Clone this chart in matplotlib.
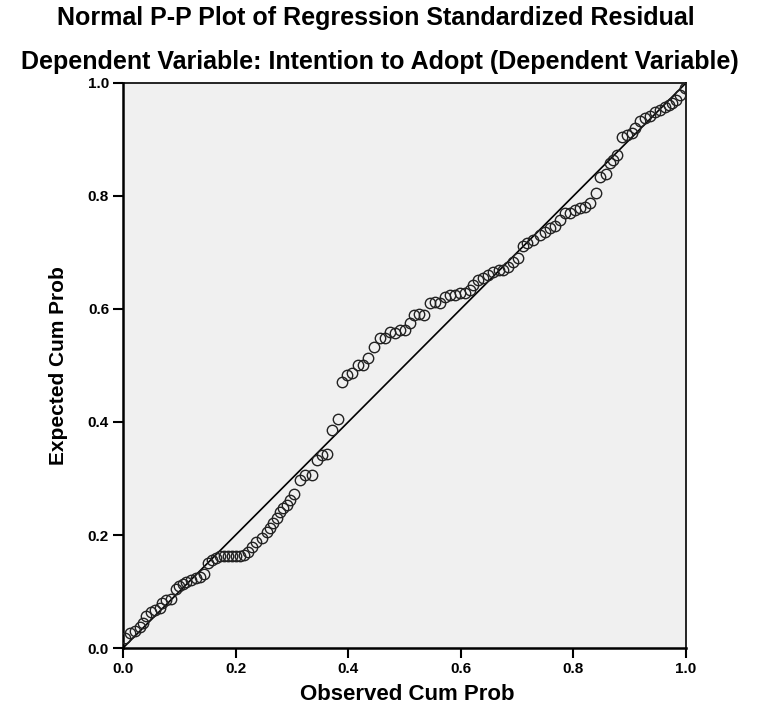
import matplotlib
matplotlib.use('Agg')
import matplotlib.pyplot as plt

plt.rcParams['font.family'] = ['Liberation Sans', 'DejaVu Sans']

# observed cumulative probability (x) and expected cumulative probability (y)
obs_cum = [0.004, 0.012, 0.021, 0.030, 0.036, 0.041, 0.050, 0.056, 0.065, 0.070,
           0.076, 0.085, 0.094, 0.100, 0.106, 0.112, 0.121, 0.130, 0.136, 0.144,
           0.151, 0.158, 0.165, 0.172, 0.180, 0.187, 0.194, 0.201, 0.208, 0.215,
           0.222, 0.229, 0.237, 0.246, 0.255, 0.261, 0.267, 0.273, 0.279, 0.285,
           0.291, 0.297, 0.303, 0.314, 0.323, 0.335, 0.344, 0.353, 0.362, 0.371,
           0.381, 0.389, 0.398, 0.407, 0.418, 0.427, 0.436, 0.445, 0.456, 0.465,
           0.474, 0.483, 0.492, 0.501, 0.510, 0.516, 0.525, 0.534, 0.545, 0.554,
           0.563, 0.572, 0.581, 0.590, 0.599, 0.607, 0.616, 0.622, 0.631, 0.640,
           0.649, 0.658, 0.667, 0.675, 0.684, 0.693, 0.702, 0.710, 0.718, 0.729,
           0.741, 0.750, 0.758, 0.767, 0.776, 0.785, 0.794, 0.803, 0.812, 0.821,
           0.829, 0.840, 0.847, 0.858, 0.865, 0.871, 0.877, 0.886, 0.895, 0.904,
           0.909, 0.918, 0.927, 0.936, 0.945, 0.954, 0.963, 0.969, 0.975, 0.982,
           0.989, 0.998]
exp_cum = [0.018, 0.027, 0.031, 0.037, 0.045, 0.057, 0.064, 0.067, 0.070, 0.080,
           0.085, 0.087, 0.104, 0.110, 0.114, 0.117, 0.120, 0.124, 0.126, 0.131,
           0.150, 0.155, 0.160, 0.163, 0.163, 0.163, 0.163, 0.163, 0.163, 0.165,
           0.170, 0.179, 0.188, 0.194, 0.206, 0.212, 0.221, 0.230, 0.241, 0.248,
           0.253, 0.262, 0.272, 0.297, 0.306, 0.306, 0.333, 0.342, 0.343, 0.386,
           0.405, 0.471, 0.484, 0.487, 0.501, 0.500, 0.513, 0.533, 0.548, 0.548,
           0.560, 0.557, 0.563, 0.563, 0.575, 0.589, 0.592, 0.589, 0.610, 0.613,
           0.610, 0.622, 0.625, 0.625, 0.628, 0.628, 0.634, 0.642, 0.651, 0.654,
           0.660, 0.666, 0.669, 0.669, 0.675, 0.684, 0.690, 0.712, 0.716, 0.722,
           0.731, 0.737, 0.743, 0.746, 0.758, 0.769, 0.769, 0.775, 0.778, 0.781,
           0.787, 0.805, 0.834, 0.839, 0.859, 0.864, 0.873, 0.905, 0.908, 0.911,
           0.920, 0.932, 0.938, 0.941, 0.949, 0.952, 0.958, 0.961, 0.964, 0.970,
           0.979, 0.991]
ticks = [0.0, 0.2, 0.4, 0.6, 0.8, 1.0]
tick_labels = ['0.0', '0.2', '0.4', '0.6', '0.8', '1.0']

fig = plt.figure(figsize=(7.57, 7.09), dpi=100)
ax = fig.add_axes([0.1625, 0.086, 0.7437, 0.797])
ax.set_facecolor('#f0f0f0')

ax.plot([0, 1], [0, 1], color='black', lw=1.2, zorder=2)
ax.plot(obs_cum, exp_cum, 'o', mfc='none', mec='#222222', mew=1.0, ms=7.5, zorder=3)

ax.set_xlim(0, 1)
ax.set_ylim(0, 1)
ax.set_xticks(ticks)
ax.set_xticklabels(tick_labels)
ax.set_yticks(ticks)
ax.set_yticklabels(tick_labels)
ax.tick_params(direction='out', length=7, width=1.5, labelsize=11, pad=3)
for lab in ax.get_xticklabels() + ax.get_yticklabels():
    lab.set_fontweight('bold')
for sp in ax.spines.values():
    sp.set_linewidth(1.2)
ax.spines['left'].set_linewidth(1.8)
ax.spines['bottom'].set_linewidth(1.8)

ax.set_ylabel('Expected Cum Prob', fontsize=15, fontweight='bold', labelpad=14)
fig.text(0.5375, 1 - 695 / 709, 'Observed Cum Prob',
         ha='center', va='center', fontsize=16, fontweight='bold')

fig.text(0.497, 1 - 18 / 709, 'Normal P-P Plot of Regression Standardized Residual',
         ha='center', va='center', fontsize=18, fontweight='bold')
fig.text(0.502, 1 - 62 / 709, 'Dependent Variable: Intention to Adopt (Dependent Variable)',
         ha='center', va='center', fontsize=18, fontweight='bold')

fig.savefig('out.png', dpi=100)
